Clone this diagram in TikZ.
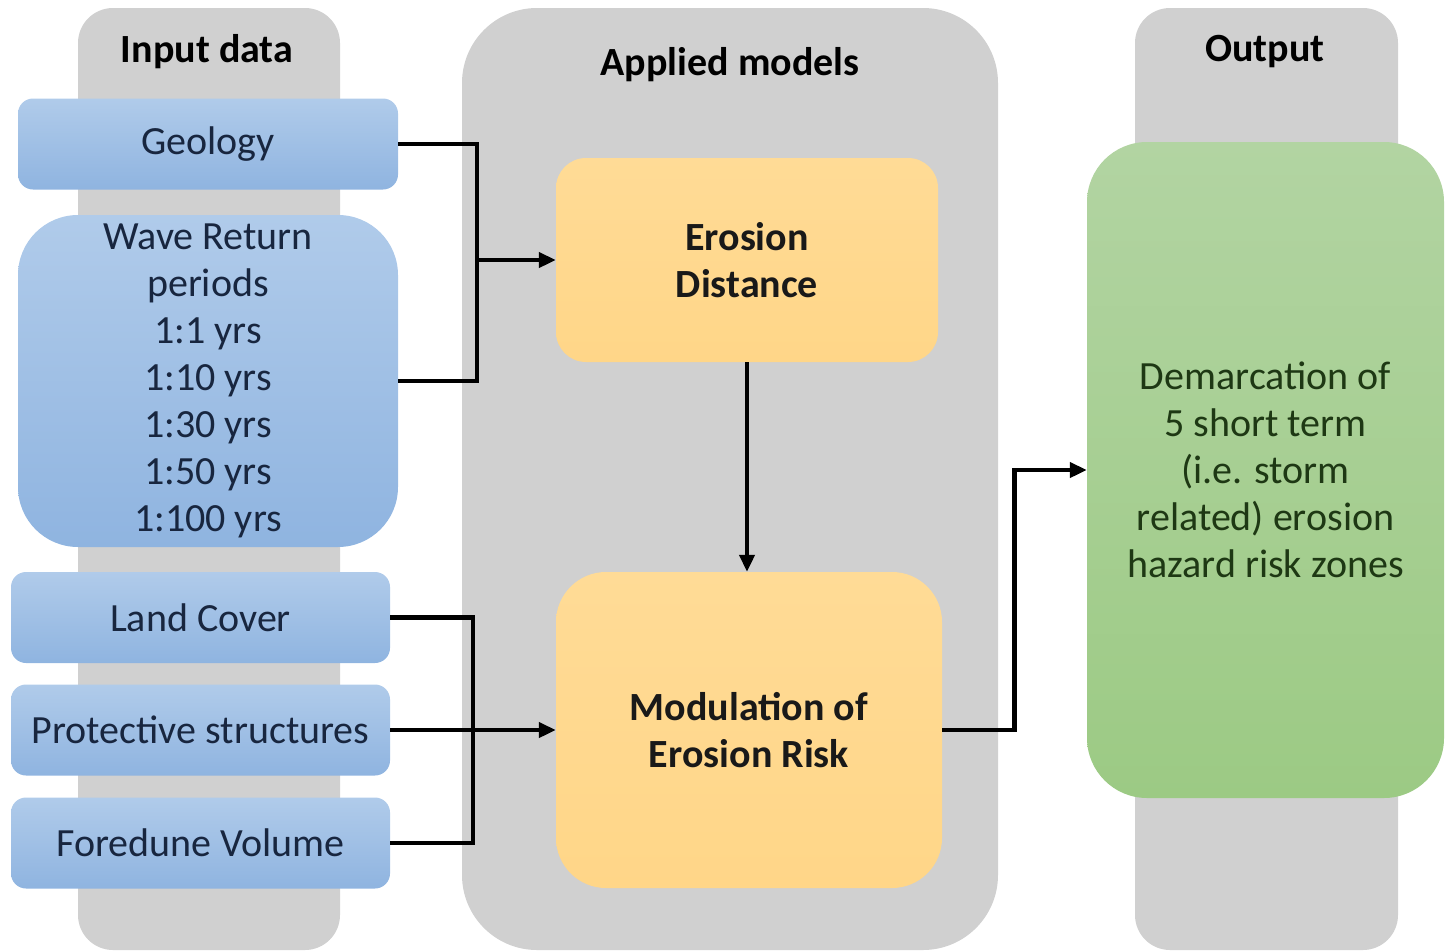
\documentclass[tikz,border=0pt]{standalone}
\usepackage{fontspec}
\setmainfont{Carlito}
\usetikzlibrary{arrows.meta, calc, positioning}
\definecolor{colgray}{HTML}{D0D0D0}
\definecolor{bluetop}{HTML}{B0CBEA}
\definecolor{bluebot}{HTML}{8FB4E0}
\definecolor{bluetxt}{HTML}{18263F}
\definecolor{orangetop}{HTML}{FFDB96}
\definecolor{orangebot}{HTML}{FFD688}
\definecolor{greentop}{HTML}{B2D4A2}
\definecolor{greenbot}{HTML}{9CCA84}
\definecolor{greentxt}{HTML}{1E3814}
\tikzset{
  column/.style={rectangle, fill=colgray, draw=none, minimum width=#1, minimum height=942pt, inner sep=0pt},
  head/.style={font=\fontsize{40}{47}\selectfont\bfseries, text=black},
  inbox/.style={rectangle, draw=none, top color=bluetop, bottom color=bluebot, text=bluetxt,
    rounded corners=15pt, minimum width=380pt, minimum height=91pt, inner sep=0pt, align=center,
    font=\fontsize{40}{47}\selectfont},
  modelbox/.style={rectangle, draw=none, top color=orangetop, bottom color=orangebot, text=black!90,
    align=center, inner sep=0pt, font=\fontsize{40}{47}\selectfont\bfseries},
  outbox/.style={rectangle, draw=none, top color=greentop, bottom color=greenbot, text=greentxt,
    rounded corners=60pt, align=center, inner sep=0pt, font=\fontsize{40}{47}\selectfont},
  wire/.style={line width=4.5pt, draw=black},
  arrow/.style={wire, -{Triangle[length=17pt,width=15pt]}}
}

\begin{document}
\begin{tikzpicture}[x=1pt, y=-1pt]
\useasboundingbox (0,0) rectangle (1446,951);

% Background columns
\node[column=262pt, rounded corners=35pt] (incol) at (209,479) {};
\node[column=536pt, rounded corners=75pt] (modcol) at (730,479) {};
\node[column=263pt, rounded corners=35pt] (outcol) at (1266.5,479) {};

\node[head] (inhead) at (207,52) {Input data};
\node[head] (modhead) at (730,65) {Applied models};
\node[head] (outhead) at (1265,52) {Output};

% Input data
\node[inbox] (geo) at (208,144) {Geology};
\node[inbox, rounded corners=60pt, minimum height=332pt] (wave) at (208,381)
  {Wave Return\\periods\\1:1 yrs\\1:10 yrs\\1:30 yrs\\1:50 yrs\\1:100 yrs};
\node[inbox, minimum width=379pt] (land) at (200.5,617.5) {Land Cover};
\node[inbox, minimum width=379pt] (prot) at (200.5,730) {Protective structures};
\node[inbox, minimum width=379pt] (fore) at (200.5,843) {Foredune Volume};

% Applied models
\node[modelbox, rounded corners=30pt, minimum width=382pt, minimum height=204pt] (erodist) at (747,260)
  {Erosion\\Distance};
\node[modelbox, rounded corners=50pt, minimum width=386pt, minimum height=316pt] (modrisk) at (749,730)
  {Modulation of\\Erosion Risk};

% Output
\node[outbox, minimum width=357pt, minimum height=656pt] (out) at (1265.5,470)
  {Demarcation of\\5 short term\\(i.e. storm\\related) erosion\\hazard risk zones};

% Connectors
\coordinate (jA) at ($(geo.east)!0.5!(erodist.west)$);
\coordinate (jB) at ($(land.east)!0.5!(modrisk.west)$);
\coordinate (jC) at ($(modrisk.east)!0.5!(out.west)$);

\draw[wire] (geo.east) -| (wave.east -| jA) -- (wave.east);
\draw[arrow] (jA |- erodist.west) -- (erodist.west);
\draw[wire] (land.east) -| (fore.east -| jB) -- (fore.east);
\draw[arrow] (prot.east) -- (modrisk.west);
\draw[arrow] (erodist.south) -- (erodist.south |- modrisk.north);
\draw[arrow] (modrisk.east) -- (jC |- modrisk.east) -- (jC |- out.west) -- (out.west);

\end{tikzpicture}
\end{document}
